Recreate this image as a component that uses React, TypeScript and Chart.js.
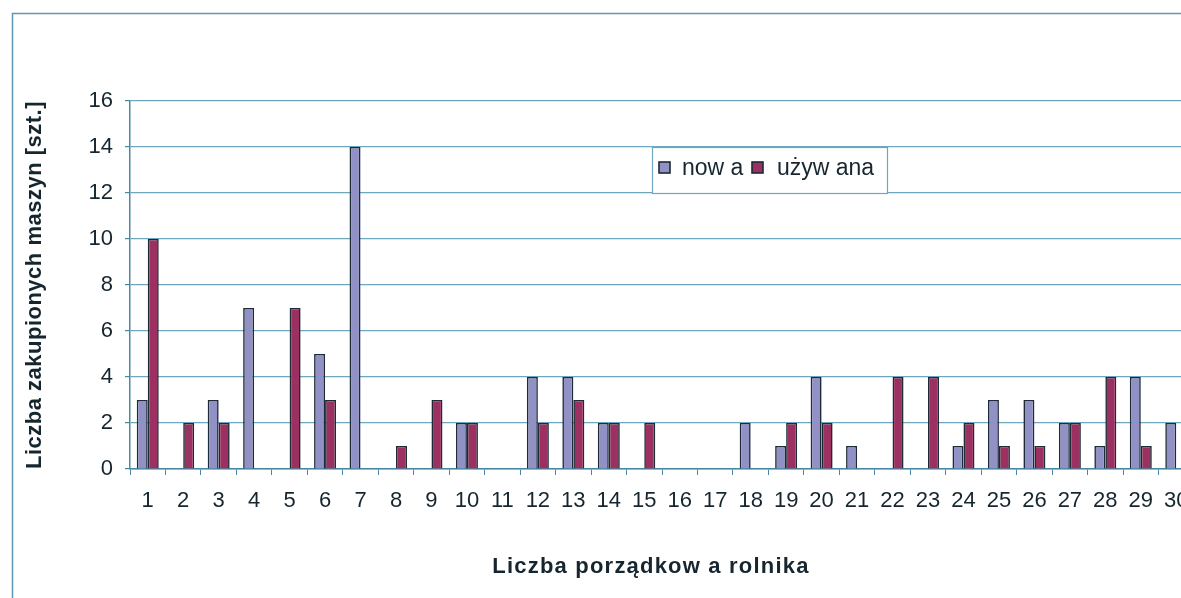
import React, { useEffect, useRef } from "react";
import { Chart, registerables } from "chart.js";

Chart.register(...registerables);

const categories = [
  "1", "2", "3", "4", "5", "6", "7", "8", "9", "10",
  "11", "12", "13", "14", "15", "16", "17", "18", "19", "20",
  "21", "22", "23", "24", "25", "26", "27", "28", "29", "30",
];
const nowa = [3, 0, 3, 7, 0, 5, 14, 0, 0, 2, 0, 4, 4, 2, 0, 0, 0, 2, 1, 4, 1, 0, 0, 1, 3, 3, 2, 1, 4, 2];
const uzywana = [10, 2, 2, 0, 7, 3, 0, 1, 3, 2, 0, 2, 3, 2, 2, 0, 0, 0, 2, 2, 0, 4, 4, 2, 1, 1, 2, 4, 1, 0];
const seriesLabels = ["now a", "używ ana"];
const yTitle = "Liczba zakupionych maszyn [szt.]";
const xTitle = "Liczba porządkow a rolnika";

const BLUE = "#9191c6";
const RED = "#9c3061";
const EDGE = "#1c2b36";
const GRID = "#6fa6bf";
const AXIS = "#4a87a2";
const TEXT = "#16262f";
const FONT = "'Liberation Sans', Arial, sans-serif";

const CW = 1240;
const CH = 598;

const decor = {
  id: "decor",
  beforeDraw(chart: any) {
    const ctx = chart.ctx;
    ctx.save();
    ctx.fillStyle = "#ffffff";
    ctx.fillRect(0, 0, CW, CH);
    ctx.strokeStyle = "#5f98b1";
    ctx.lineWidth = 1.5;
    ctx.strokeRect(12.5, 13.5, CW, CH);
    ctx.restore();
  },
  afterDraw(chart: any) {
    const ctx = chart.ctx;
    ctx.save();
    // legend
    const lx = 652, ly = 147, lw = 235, lh = 46;
    ctx.fillStyle = "#ffffff";
    ctx.fillRect(lx, ly, lw, lh);
    ctx.strokeStyle = GRID;
    ctx.lineWidth = 1.2;
    ctx.strokeRect(lx + 0.5, ly + 0.5, lw, lh);
    const items = [
      { x: 659, tx: 682, color: BLUE, label: seriesLabels[0] },
      { x: 752, tx: 777, color: RED, label: seriesLabels[1] },
    ];
    ctx.font = `23px ${FONT}`;
    ctx.textBaseline = "middle";
    ctx.textAlign = "left";
    for (const it of items) {
      ctx.fillStyle = it.color;
      ctx.fillRect(it.x, 162, 11, 11);
      ctx.strokeStyle = EDGE;
      ctx.lineWidth = 1.6;
      ctx.strokeRect(it.x, 162, 11, 11);
      ctx.fillStyle = TEXT;
      ctx.fillText(it.label, it.tx, 169);
    }
    // axis titles
    ctx.fillStyle = TEXT;
    ctx.textAlign = "center";
    ctx.textBaseline = "middle";
    ctx.font = `bold 22px ${FONT}`;
    (ctx as any).letterSpacing = "1.2px";
    ctx.fillText(xTitle, 651, 567);
    (ctx as any).letterSpacing = "0.5px";
    ctx.translate(35, 285);
    ctx.rotate(-Math.PI / 2);
    ctx.fillText(yTitle, 0, 0);
    (ctx as any).letterSpacing = "0px";
    ctx.restore();
  },
};

export default function App() {
  const ref = useRef<HTMLCanvasElement | null>(null);
  useEffect(() => {
    if (!ref.current) return;
    const chart = new Chart(ref.current, {
      type: "bar",
      data: {
        labels: categories,
        datasets: [
          {
            label: seriesLabels[0],
            data: nowa.map((v) => (v === 0 ? null : v)),
            backgroundColor: BLUE,
            borderColor: EDGE,
            borderWidth: 1.6,
            categoryPercentage: 0.62,
            barPercentage: 1,
          },
          {
            label: seriesLabels[1],
            data: uzywana.map((v) => (v === 0 ? null : v)),
            backgroundColor: RED,
            borderColor: EDGE,
            borderWidth: 1.6,
            categoryPercentage: 0.62,
            barPercentage: 1,
          },
        ],
      },
      options: {
        responsive: false,
        animation: false,
        layout: { padding: { left: 20, right: CW - 1194, top: 101, bottom: 0 } },
        plugins: {
          legend: { display: false },
          tooltip: { enabled: false },
          title: { display: false },
        },
        scales: {
          x: {
            grid: {
              display: true,
              drawOnChartArea: false,
              drawTicks: true,
              tickLength: 6,
              tickColor: AXIS,
              offset: true,
            },
            border: { display: true, color: AXIS, width: 1.5 },
            ticks: {
              color: TEXT,
              font: { family: FONT, size: 22 },
              padding: 13,
              maxRotation: 0,
              autoSkip: false,
            },
            afterFit(scale: any) {
              scale.height = CH - 469;
            },
          },
          y: {
            min: 0,
            max: 16,
            ticks: {
              stepSize: 2,
              color: TEXT,
              font: { family: FONT, size: 22 },
              padding: 12,
            },
            grid: {
              color: GRID,
              lineWidth: 1.2,
              tickLength: 5,
              tickColor: AXIS,
            },
            border: { display: true, color: AXIS, width: 1.5 },
            afterFit(scale: any) {
              scale.width = 110;
            },
          },
        },
      },
      plugins: [decor],
    });
    return () => chart.destroy();
  }, []);
  return (
    <div
      style={{
        position: "fixed",
        left: 0,
        top: 0,
        width: 1181,
        height: 598,
        overflow: "hidden",
        background: "#fff",
      }}
    >
      <canvas ref={ref} width={CW} height={CH} style={{ display: "block", width: CW, height: CH }} />
    </div>
  );
}
